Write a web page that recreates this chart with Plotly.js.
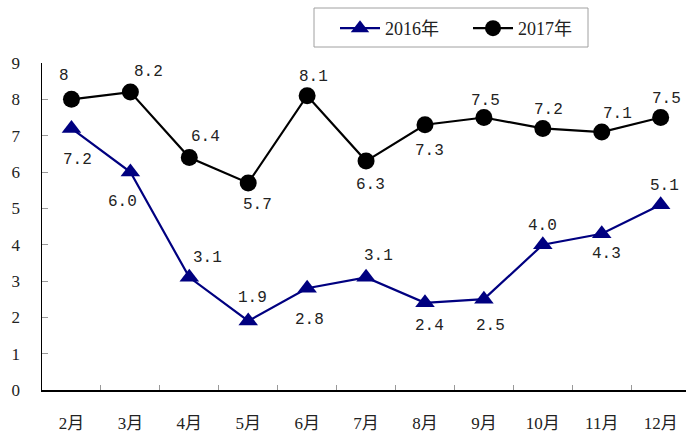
<!DOCTYPE html>
<html>
<head>
<meta charset="utf-8">
<script src="https://cdn.plot.ly/plotly-3.0.1.min.js"></script>
<style>html,body{margin:0;padding:0;background:#fff;overflow:hidden;}</style>
</head>
<body>
<div id="chart" style="width:686px;height:434px;"></div>
<script>
const months = ['2月','3月','4月','5月','6月','7月','8月','9月','10月','11月','12月'];
const values2016 = [7.2, 6.0, 3.1, 1.9, 2.8, 3.1, 2.4, 2.5, 4.0, 4.3, 5.1];
const values2017 = [8, 8.2, 6.4, 5.7, 8.1, 6.3, 7.3, 7.5, 7.2, 7.1, 7.5];
const labels2016 = ['7.2','6.0','3.1','1.9','2.8','3.1','2.4','2.5','4.0','4.3','5.1'];
const labels2017 = ['8','8.2','6.4','5.7','8.1','6.3','7.3','7.5','7.2','7.1','7.5'];
const yTicks = [0,1,2,3,4,5,6,7,8,9];

// label offsets in pixels [dx, dy(up positive)]
const off2016 = [[6,-32],[-8,-30],[18,19],[4,23],[2,-32],[12,21],[5,-23],[7,-27],[0,19],[5,-20],[4,19]];
const off2017 = [[-7,23],[18,20],[16,20],[9,-22],[6,19],[4,-24],[5,-26],[2,17],[6,18],[16,18],[6,19]];

const serif = '"Liberation Serif", "Noto Sans CJK SC", serif';
const mono = '"Liberation Mono", "DejaVu Sans Mono", monospace';

const traces = [
  {x: months, y: values2016, name: '2016年', type: 'scatter', mode: 'lines+markers',
   line: {color: '#000080', width: 2.2},
   marker: {symbol: 'triangle-up', size: 17, color: '#000080'}},
  {x: months, y: values2017, name: '2017年', type: 'scatter', mode: 'lines+markers',
   line: {color: '#000000', width: 2.2},
   marker: {symbol: 'circle', size: 17, color: '#000000'}}
];

const annotations = [];
function addLabels(vals, labs, offs) {
  vals.forEach((v, i) => {
    annotations.push({x: months[i], y: v, xref: 'x', yref: 'y', text: labs[i],
      showarrow: false, xshift: offs[i][0], yshift: offs[i][1],
      font: {family: mono, size: 16, color: '#222'}});
  });
}
addLabels(values2016, labels2016, off2016);
addLabels(values2017, labels2017, off2017);

const PW = 644, PH = 327, PL = 42, PB = 390;
const layout = {
  width: 686, height: 434,
  margin: {l: 42, r: 0, t: 63, b: 44, autoexpand: false},
  paper_bgcolor: '#fff', plot_bgcolor: '#fff',
  showlegend: true,
  legend: {orientation: 'h', x: (335-PL)/PW, xanchor: 'left', y: (PB-10)/PH, yanchor: 'top',
    borderwidth: 0, bgcolor: 'rgba(0,0,0,0)', font: {family: serif, size: 18, color: '#222'},
    entrywidth: 78, itemwidth: 40},
  shapes: [{type: 'rect', xref: 'paper', yref: 'paper',
    x0: (314-PL)/PW, x1: (588-PL)/PW, y0: (PB-47)/PH, y1: (PB-8)/PH,
    line: {color: '#a0a0a0', width: 1}, fillcolor: 'rgba(0,0,0,0)', layer: 'below'}],
  xaxis: {type: 'category', range: [-0.5, 10.43], showline: true, linecolor: '#000', linewidth: 1.5,
    ticks: 'inside', tickson: 'boundaries', ticklen: 5, tickcolor: '#999', showgrid: false,
    zeroline: false, tickfont: {family: serif, size: 17, color: '#222'}, ticklabelstandoff: 17},
  yaxis: {range: [0, 9], tickvals: yTicks, showline: true, linecolor: '#000', linewidth: 1.5,
    ticks: 'inside', ticklen: 6, tickcolor: '#999', showgrid: false, zeroline: false,
    tickfont: {family: serif, size: 17, color: '#222'}, ticklabelstandoff: 17},
  annotations: annotations
};

Plotly.newPlot('chart', traces, layout, {displayModeBar: false, staticPlot: true});
</script>
</body>
</html>
